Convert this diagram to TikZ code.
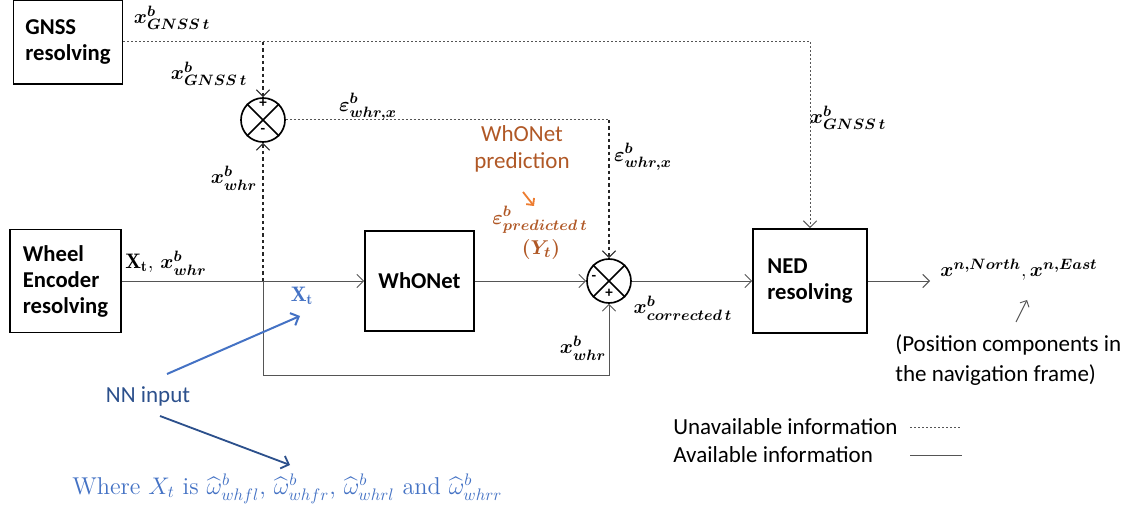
\documentclass[tikz,border=0pt]{standalone}
\usepackage{amsmath}
\usepackage{bm}
\usepackage{fontspec}
\setsansfont{Carlito}
\usetikzlibrary{arrows.meta}
\definecolor{brn}{RGB}{176,88,38}
\definecolor{org}{RGB}{237,125,49}
\definecolor{blu}{RGB}{68,114,196}
\definecolor{dblu}{RGB}{44,80,140}
\definecolor{lin}{RGB}{85,85,85}
\begin{document}
\begin{tikzpicture}[x=0.6pt,y=-0.6pt,
  font=\sffamily\fontsize{13.8}{16}\selectfont,
  blk/.style={draw,line width=1pt,align=left,inner sep=0pt,
    font=\sffamily\bfseries\fontsize{13.6}{15.6}\selectfont},
  sumc/.style={draw,circle,line width=1pt,minimum size=26.4pt,inner sep=0pt},
  tip/.style={-{Straight Barb[length=4pt,width=8pt]}},
  avail/.style={draw=lin,line width=0.55pt},
  unav/.style={draw=lin,line width=0.6pt,dash pattern=on 1.2pt off 1.2pt},
  unavd/.style={draw=black!85,line width=0.7pt,dash pattern=on 2pt off 1.8pt},
  lbl/.style={inner sep=0pt,font=\fontsize{12.6}{15}\selectfont},
  sgn/.style={inner sep=0pt,font=\sffamily\bfseries\fontsize{9}{10}\selectfont}]
\useasboundingbox (0,0) rectangle (1128,509);

% blocks
\node[blk,minimum width=65.4pt,minimum height=50.4pt] (gnss) at (68,42) {GNSS\\resolving};
\node[blk,minimum width=66.6pt,minimum height=61.8pt] (wheel) at (65.5,281) {Wheel\\Encoder\\resolving};
\node[blk,minimum width=65.4pt,minimum height=60pt] (whonet) at (419.5,281) {WhONet};
\node[blk,minimum width=68.4pt,minimum height=62.4pt] (ned) at (810,281) {NED\\resolving};

% summing junctions
\node[sumc] (c1) at (263,120) {};
\node[sumc] (c2) at (609,281) {};
\draw[line width=1pt] (c1.45)--(c1.225) (c1.135)--(c1.315);
\draw[line width=1pt] (c2.45)--(c2.225) (c2.135)--(c2.315);
\node[sgn] (p1) at (263,103) {+};
\node[sgn] (m1) at (263,131) {-};
\node[sgn] (m2) at (594,278) {-};
\node[sgn] (p2) at (609,293) {+};

% coordinates
\coordinate (g1) at (263,42);
\coordinate (g2) at (810,42);
\coordinate (e1) at (609,120);
\coordinate (j) at (263,281);
\coordinate (b1) at (263,375);
\coordinate (o) at (930,281);

% unavailable information
\draw[unav] (gnss.east) -- (g1) -- (g2);
\draw[unav,tip] (g2) -- (ned.north);
\draw[unavd,tip] (g1) -- (c1.north);
\draw[unav] (c1.east) -- (e1);
\draw[unavd,tip] (e1) -- (c2.north);
\draw[unavd,tip] (j) -- (c1.south);

% available information
\draw[avail,tip] (wheel.east) -- (whonet.west);
\draw[avail,tip] (j) -- (b1) -| (c2.south);
\draw[avail,tip] (whonet.east) -- (c2.west);
\draw[avail,tip] (c2.east) -- (ned.west);
\draw[avail,tip] (ned.east) -- (o);

% labels
\node[lbl] (l1) at (172,18) {$\bm{x^b_{GNSS\,t}}$};
\node[lbl] (l2) at (209,74) {$\bm{x^b_{GNSS\,t}}$};
\node[lbl] (l3) at (368,107) {$\bm{\varepsilon^b_{whr,x}}$};
\node[lbl] (l4) at (234,178) {$\bm{x^b_{whr}}$};
\node[inner sep=0pt,text=brn,align=center] (pred) at (522,149) {WhONet\\prediction};
\coordinate (oa1) at (523,192);
\coordinate (oa2) at (534,206);
\draw[org,line width=1.1pt,-{Straight Barb[length=3pt,width=6pt]}] (oa1) -- (oa2);
\node[lbl,text=brn] (l5) at (540,220) {$\bm{\varepsilon^b_{predicted\,t}}$};
\node[lbl,text=brn] (l6) at (541,250) {$\bm{(Y_t)}$};
\node[lbl] (l7) at (643,157) {$\bm{\varepsilon^b_{whr,x}}$};
\node[lbl] (l8) at (848,118) {$\bm{x^b_{GNSS\,t}}$};
\node[lbl] (l9) at (166,263) {$\mathbf{X_t}$, $\bm{x^b_{whr}}$};
\node[lbl,text=blu] (xt) at (302,296) {$\mathbf{X_t}$};
\node[lbl] (l10) at (583,348) {$\bm{x^b_{whr}}$};
\node[lbl] (l11) at (683,308) {$\bm{x^b_{corrected\,t}}$};
\node[lbl,anchor=west] (out) at (940,270) {$\bm{x^{n,North}}, \bm{x^{n,East}}$};
\coordinate (pa1) at (1016,322);
\coordinate (pa2) at (1027,300);
\draw[avail,-{Straight Barb[length=3pt,width=6pt]}] (pa1) -- (pa2);
\node[anchor=west,align=left,inner sep=0pt,font=\sffamily\fontsize{13.8}{18}\selectfont] (pos) at (895,360) {(Position components in\\the navigation frame)};

% NN input
\node[inner sep=0pt,text=dblu] (nn) at (148,396) {NN input};
\coordinate (ba1) at (167,374);
\coordinate (ba2) at (300,316);
\draw[blu,line width=1.2pt,-{Straight Barb[length=4pt,width=8pt]}] (ba1) -- (ba2);
\coordinate (da1) at (160,416);
\coordinate (da2) at (290,465);
\draw[dblu,line width=1.1pt,-{Straight Barb[length=4pt,width=8pt]}] (da1) -- (da2);
\node[anchor=west,inner sep=0pt,text=blu,font=\rmfamily\fontsize{14.6}{16}\selectfont] (where) at (72,489)
  {Where $X_t$ is $\widehat{\omega}^b_{whfl}$, $\widehat{\omega}^b_{whfr}$, $\widehat{\omega}^b_{whrl}$ and $\widehat{\omega}^b_{whrr}$};

% legend
\node[anchor=west,inner sep=0pt] (lg1) at (673,427) {Unavailable information};
\node[anchor=west,inner sep=0pt] (lg2) at (673,455) {Available information};
\coordinate (lu1) at (910,427);
\coordinate (lu2) at (960,427);
\coordinate (la1) at (910,455);
\coordinate (la2) at (962,455);
\draw[unav] (lu1) -- (lu2);
\draw[avail] (la1) -- (la2);
\end{tikzpicture}
\end{document}
